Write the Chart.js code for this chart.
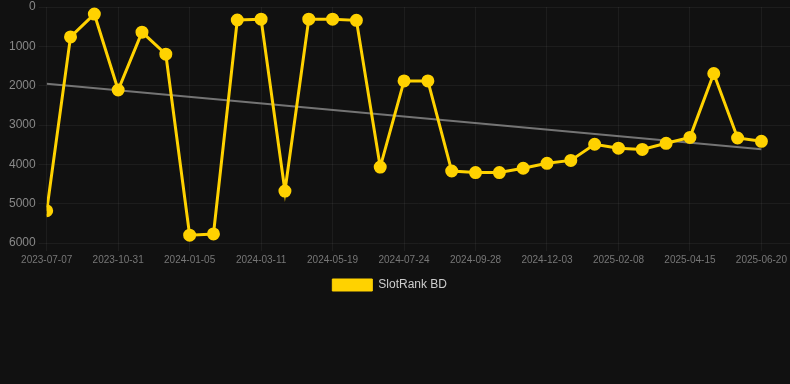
<!DOCTYPE html>
<html lang="en">
<head>
    <meta charset="UTF-8">
    <title>SlotRank BD</title>
    <script src="https://cdn.jsdelivr.net/npm/chart.js"></script>
    <style>
        body { background-color: #111111; margin: 0; padding: 0; }
        .container { width: 790px; height: 301px; position: relative; }
    </style>
</head>
<body>
    <div class="container">
        <canvas id="rankChart"></canvas>
    </div>

    <script>
        const dates = [
            '2023-07-07', '2023-08-15', '2023-09-22', '2023-10-31', '2023-11-22', '2023-12-14',
            '2024-01-05', '2024-01-27', '2024-02-18', '2024-03-11', '2024-04-03', '2024-04-26',
            '2024-05-19', '2024-06-10', '2024-07-02', '2024-07-24', '2024-08-15', '2024-09-06',
            '2024-09-28', '2024-10-20', '2024-11-11', '2024-12-03', '2024-12-25', '2025-01-17',
            '2025-02-08', '2025-03-02', '2025-03-24', '2025-04-15', '2025-05-07', '2025-05-29',
            '2025-06-20'
        ];
        const ranks = [
            5180, 760, 180, 2110, 640, 1200,
            5800, 5770, 330, 310, 4680, 310,
            310, 340, 4070, 1880, 1880, 4170,
            4210, 4210, 4100, 3975, 3900, 3490,
            3590, 3620, 3465, 3315, 1690, 3330,
            3415
        ];
        const yTicks = [0, 1000, 2000, 3000, 4000, 5000, 6000];
        const xMax = 31.2;

        // least squares trend through the rank series
        function trendLine(values) {
            const n = values.length;
            const mx = (n - 1) / 2;
            const my = values.reduce((a, b) => a + b, 0) / n;
            let num = 0, den = 0;
            values.forEach((v, i) => { num += (i - mx) * (v - my); den += (i - mx) * (i - mx); });
            const slope = num / den;
            return [{ x: 0, y: my - slope * mx }, { x: n - 1, y: my + slope * (n - 1 - mx) }];
        }

        const points = ranks.map((v, i) => ({ x: i, y: v }));

        new Chart(document.getElementById('rankChart').getContext('2d'), {
            type: 'line',
            data: {
                datasets: [{
                    label: 'SlotRank BD',
                    data: points,
                    borderColor: '#ffd200',
                    backgroundColor: '#ffd200',
                    borderWidth: 3,
                    pointRadius: 5,
                    pointHoverRadius: 5,
                    tension: 0,
                    fill: false
                }, {
                    label: 'trend',
                    data: trendLine(ranks),
                    borderColor: 'rgba(150,150,150,0.75)',
                    borderWidth: 2,
                    pointRadius: 0,
                    fill: false
                }]
            },
            options: {
                responsive: true,
                maintainAspectRatio: false,
                animation: false,
                layout: { autoPadding: false, padding: { left: 6 } },
                plugins: {
                    legend: {
                        position: 'bottom',
                        labels: {
                            color: '#cccccc',
                            font: { size: 12 },
                            generateLabels: chart => Chart.defaults.plugins.legend.labels.generateLabels(chart)
                                .filter(l => l.datasetIndex === 0)
                                .map(l => Object.assign(l, { lineWidth: 1, text: l.text + '     ' }))
                        }
                    },
                    tooltip: { enabled: false }
                },
                scales: {
                    x: {
                        type: 'linear',
                        min: 0,
                        max: xMax,
                        grid: { color: 'rgba(255,255,255,0.05)' },
                        border: { display: false },
                        ticks: {
                            autoSkip: false,
                            maxRotation: 0,
                            color: '#777777',
                            font: { size: 10 },
                            callback: v => (Number.isInteger(v) && v % 3 === 0) ? dates[v] : ''
                        },
                        afterBuildTicks: axis => {
                            const t = dates.map((d, i) => ({ value: i })).filter(t => t.value % 3 === 0);
                            t.push({ value: xMax });
                            axis.ticks = t;
                        },
                        afterFit: axis => { axis.paddingRight = 0; }
                    },
                    y: {
                        reverse: true,
                        min: 0,
                        max: 6000,
                        grid: { color: 'rgba(255,255,255,0.05)' },
                        border: { display: false },
                        ticks: { color: '#888888', font: { size: 12 }, callback: v => String(v) },
                        afterBuildTicks: axis => {
                            axis.ticks = yTicks.map(v => ({ value: v }));
                        },
                        afterFit: axis => { axis.paddingTop = 7; }
                    }
                }
            }
        });
    </script>
</body>
</html>
